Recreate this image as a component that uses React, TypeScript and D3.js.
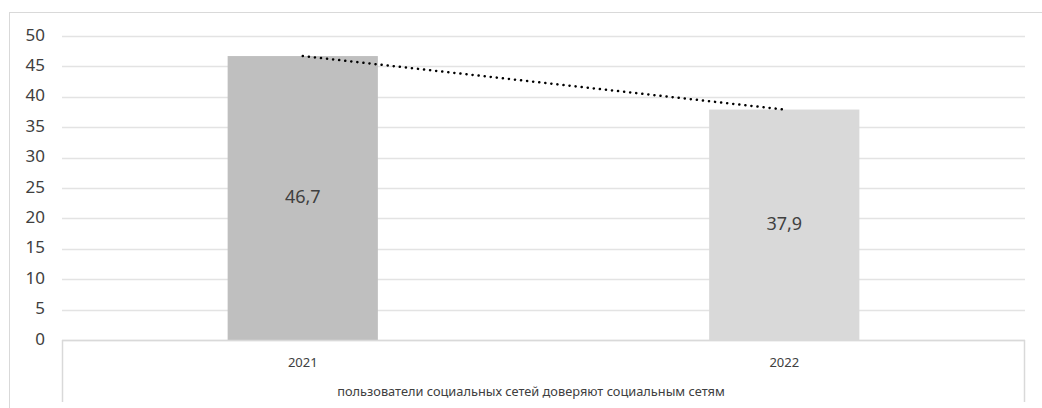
import React from "react";
import * as d3 from "d3";

const categories = ["2021", "2022"];
const values = [46.7, 37.9];
const valueLabels = ["46,7", "37,9"];
const yTicks = [0, 5, 10, 15, 20, 25, 30, 35, 40, 45, 50];
const groupLabel = "пользователи социальных сетей доверяют социальным сетям";
const barColors = ["#bfbfbf", "#d9d9d9"];

const W = 1042;
const H = 408;
const plotLeft = 62;
const plotRight = 1025;
const plotTop = 36;
const plotBottom = 340;
const font = "'Noto Sans', 'Open Sans', sans-serif";

export default function App() {
  const x = d3.scaleBand<string>().domain(categories).range([plotLeft, plotRight]).padding(0);
  const y = d3.scaleLinear().domain([0, 50]).range([plotBottom, plotTop]);
  const barW = x.bandwidth() * 0.312;
  const cx = (c: string) => (x(c) as number) + x.bandwidth() / 2;

  // linear trendline (least squares over category index 1..n)
  const xs = categories.map((_, i) => i + 1);
  const mx = d3.mean(xs) as number;
  const my = d3.mean(values) as number;
  const slope =
    d3.sum(xs.map((xi, i) => (xi - mx) * (values[i] - my))) /
    d3.sum(xs.map((xi) => (xi - mx) * (xi - mx)));
  const intercept = my - slope * mx;
  const trendPts: [number, number][] = xs.map((xi, i) => [cx(categories[i]), y(intercept + slope * xi)]);
  const line = d3.line();

  return (
    <svg
      width={W}
      height={H}
      style={{ position: "absolute", left: 0, top: 0, background: "#fff" }}
      fontFamily={font}
    >
      {/* outer chart border */}
      <rect x={9.5} y={12.5} width={W + 20} height={H + 20} fill="#fff" stroke="#d9d9d9" strokeWidth={1} />

      {/* gridlines */}
      {yTicks.map((t) => (
        <line
          key={t}
          x1={plotLeft}
          x2={plotRight}
          y1={Math.round(y(t)) + 0.5}
          y2={Math.round(y(t)) + 0.5}
          stroke="#e3e3e3"
          strokeWidth={1.5}
        />
      ))}

      {/* y tick labels */}
      {yTicks.map((t) => (
        <text
          key={"l" + t}
          x={45}
          y={y(t)}
          textAnchor="end"
          dominantBaseline="middle"
          fontSize={17}
          fill="#404040"
        >
          {t}
        </text>
      ))}

      {/* bars */}
      {categories.map((c, i) => (
        <rect
          key={c}
          x={cx(c) - barW / 2}
          y={y(values[i])}
          width={barW}
          height={plotBottom - y(values[i])}
          fill={barColors[i]}
        />
      ))}

      {/* data labels */}
      {categories.map((c, i) => (
        <text
          key={"v" + c}
          x={cx(c)}
          y={(y(values[i]) + plotBottom) / 2}
          textAnchor="middle"
          dominantBaseline="middle"
          fontSize={18}
          fill="#404040"
        >
          {valueLabels[i]}
        </text>
      ))}

      {/* trendline */}
      <path
        d={line(trendPts) as string}
        fill="none"
        stroke="#000"
        strokeWidth={2.5}
        strokeDasharray="0.1 6"
        strokeLinecap="round"
      />

      {/* category axis box */}
      <line x1={plotLeft} x2={plotRight} y1={340.5} y2={340.5} stroke="#d9d9d9" strokeWidth={1.5} />
      <line x1={plotLeft + 0.5} x2={plotLeft + 0.5} y1={340} y2={402} stroke="#d9d9d9" strokeWidth={1.5} />
      <line x1={plotRight - 0.5} x2={plotRight - 0.5} y1={340} y2={402} stroke="#d9d9d9" strokeWidth={1.5} />

      {/* category labels */}
      {categories.map((c) => (
        <text key={"c" + c} x={cx(c)} y={366.5} textAnchor="middle" fontSize={13} fill="#404040">
          {c}
        </text>
      ))}
      <text x={531} y={396} textAnchor="middle" fontSize={12.8} fill="#404040">
        {groupLabel}
      </text>
    </svg>
  );
}
